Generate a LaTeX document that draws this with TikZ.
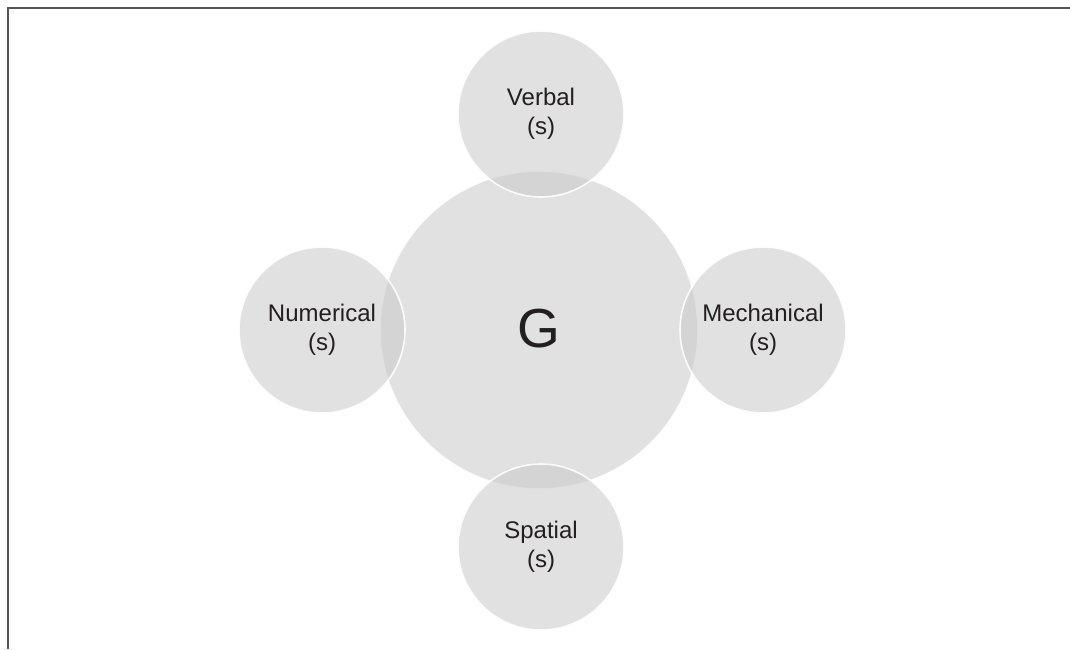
\documentclass[tikz,border=0pt]{standalone}
\usepackage{fontspec}
\setmainfont{Liberation Sans}
\definecolor{disc}{RGB}{202,202,204}
\definecolor{ink}{RGB}{35,31,32}
\definecolor{frame}{RGB}{85,85,85}
\begin{document}
\begin{tikzpicture}[x=1pt,y=-1pt,
  blob/.style={circle, inner sep=0pt, fill=disc, fill opacity=0.57,
    draw=white, draw opacity=0.9, line width=1.6pt, text opacity=1,
    text=ink, align=center},
  satellite/.style={blob, minimum size=166pt,
    font=\fontsize{24}{29}\selectfont},
  core/.style={blob, minimum size=318pt,
    font=\fontsize{55}{58}\selectfont}]
\useasboundingbox (0,0) rectangle (1070,649);
% open frame: top and left rules
\draw[frame, line width=2pt] (8,649) -- (8,8) -- (1070,8);
% central factor and the four specific factors
\node[core] (g) at (539,330) {\raisebox{3pt}{G}};
\node[satellite] (verbal) at (541,114) {Verbal\\(s)};
\node[satellite] (numerical) at (322,330) {Numerical\\(s)};
\node[satellite] (mechanical) at (763,330) {Mechanical\\(s)};
\node[satellite] (spatial) at (541,547) {Spatial\\(s)};
\end{tikzpicture}
\end{document}
